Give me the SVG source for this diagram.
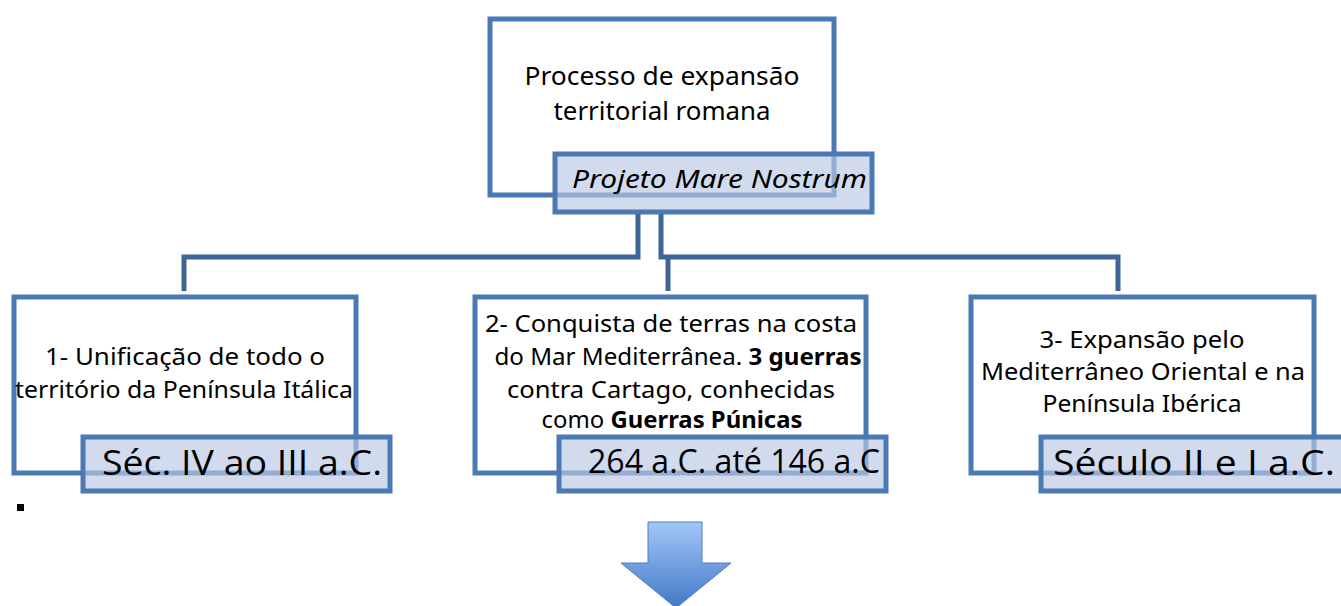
<svg xmlns="http://www.w3.org/2000/svg" width="1341" height="606" viewBox="0 0 1341 606">
<defs>
<style>
.box{fill:#ffffff;stroke:#4a79b3;stroke-width:5}
.sub{fill:#b8c7e3;fill-opacity:0.65;stroke:#4a79b3;stroke-width:5}
.conn{fill:none;stroke:#3e6598;stroke-width:5}
text{font-family:"Noto Sans","Open Sans","Liberation Sans",sans-serif;fill:#000}
.t{font-size:23px;text-anchor:middle}
.top{font-size:25px;text-anchor:middle}
.big{font-size:34px;font-family:"Open Sans","Liberation Sans",sans-serif}
.b{font-weight:bold}
</style>
<linearGradient id="ag" x1="0" y1="0" x2="0" y2="1">
<stop offset="0" stop-color="#a3c6f7"/>
<stop offset="1" stop-color="#4278c8"/>
</linearGradient>
</defs>
<g id="connectors">
<polyline class="conn" points="638,214 638,257 184,257 184,291"/>
<polyline class="conn" points="661,214 661,257 1118,257 1118,291"/>
<line class="conn" x1="668" y1="257" x2="668" y2="291"/>
</g>
<g id="node-top">
<rect class="box" x="490" y="19" width="344" height="176"/>
<text class="top" x="662" y="85" textLength="275" lengthAdjust="spacingAndGlyphs">Processo de expansão</text>
<text class="top" x="662" y="120" textLength="217" lengthAdjust="spacingAndGlyphs">territorial romana</text>
</g>
<g id="node-top-sub">
<rect class="sub" x="555" y="154" width="317" height="58"/>
<text x="572" y="188" font-size="25" font-style="italic" textLength="295" lengthAdjust="spacingAndGlyphs">Projeto Mare Nostrum</text>
</g>
<g id="node-1">
<rect class="box" x="14" y="297" width="342" height="176"/>
<text class="t" x="185" y="365" textLength="280" lengthAdjust="spacingAndGlyphs">1- Unificação de todo o</text>
<text class="t" x="184" y="398" textLength="338" lengthAdjust="spacingAndGlyphs">território da Península Itálica</text>
</g>
<g id="node-1-sub">
<rect class="sub" x="83" y="437" width="307" height="54"/>
<text class="big" x="102" y="475" textLength="280" lengthAdjust="spacingAndGlyphs">Séc. IV ao III a.C.</text>
</g>
<g id="node-2">
<rect class="box" x="475" y="297" width="391" height="176"/>
<text class="t" x="671" y="332" textLength="372" lengthAdjust="spacingAndGlyphs">2- Conquista de terras na costa</text>
<text class="t" x="678" y="365" textLength="367" lengthAdjust="spacingAndGlyphs">do Mar Mediterrânea. <tspan class="b">3 guerras</tspan></text>
<text class="t" x="671" y="398" textLength="328" lengthAdjust="spacingAndGlyphs">contra Cartago, conhecidas</text>
<text class="t" x="672" y="428" textLength="261" lengthAdjust="spacingAndGlyphs">como <tspan class="b">Guerras Púnicas</tspan></text>
</g>
<g id="node-2-sub">
<rect class="sub" x="559" y="437" width="327" height="54"/>
<text class="big" x="588" y="473" font-size="32" style="font-size:32px" textLength="292" lengthAdjust="spacingAndGlyphs">264 a.C. até 146 a.C</text>
</g>
<g id="node-3">
<rect class="box" x="971" y="297" width="343" height="176"/>
<text class="t" x="1142" y="348" textLength="205" lengthAdjust="spacingAndGlyphs">3- Expansão pelo</text>
<text class="t" x="1143" y="380" textLength="324" lengthAdjust="spacingAndGlyphs">Mediterrâneo Oriental e na</text>
<text class="t" x="1142" y="412" textLength="199" lengthAdjust="spacingAndGlyphs">Península Ibérica</text>
</g>
<g id="node-3-sub">
<rect class="sub" x="1041" y="437" width="310" height="54"/>
<text class="big" x="1053" y="475" textLength="282" lengthAdjust="spacingAndGlyphs">Século II e I a.C.</text>
</g>
<rect x="17" y="504" width="7" height="7" fill="#000"/>
<g id="arrow">
<polygon points="648,522 702,522 702,563 731,563 676,608 621,563 648,563" fill="url(#ag)" stroke="#4a7cc4" stroke-width="1"/>
</g>
</svg>
